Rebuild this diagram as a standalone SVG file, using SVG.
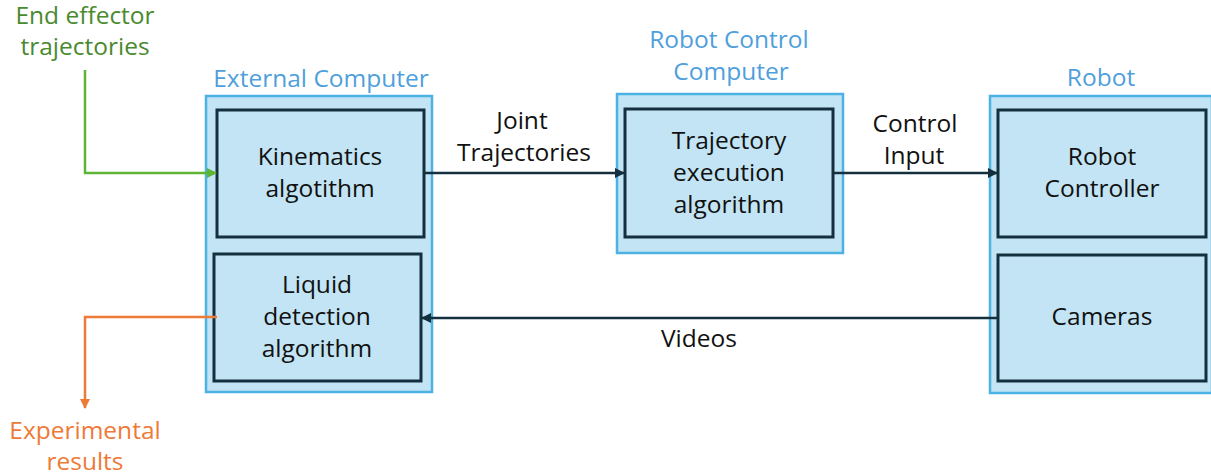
<svg xmlns="http://www.w3.org/2000/svg" width="1211" height="476" viewBox="0 0 1211 476">
  <style>
    text { font-family: "Open Sans", "Noto Sans", "Liberation Sans", sans-serif; font-size: 24.5px; text-anchor: middle; }
    .outer { fill: #c2e4f4; stroke: #4cb1e3; stroke-width: 2.5; }
    .inner { fill: #c2e4f4; stroke: #14303f; stroke-width: 3; }
    .lbl { fill: #111; }
    .grp { fill: #4f9fdc; }
    .conn { fill: none; stroke: #14303f; stroke-width: 2.5; }
    .green { fill: none; stroke: #5cb535; stroke-width: 2.5; }
    .orange { fill: none; stroke: #ee7a38; stroke-width: 2.5; }
  </style>
  <defs>
    <marker id="arrDark" markerWidth="10" markerHeight="10" refX="9" refY="5" orient="auto" markerUnits="userSpaceOnUse">
      <path d="M0,0 L10,5 L0,10 z" fill="#14303f"/>
    </marker>
    <marker id="arrGreen" markerWidth="10" markerHeight="10" refX="9" refY="5" orient="auto" markerUnits="userSpaceOnUse">
      <path d="M0,0 L10,5 L0,10 z" fill="#5cb535"/>
    </marker>
    <marker id="arrOrange" markerWidth="10" markerHeight="10" refX="9" refY="5" orient="auto" markerUnits="userSpaceOnUse">
      <path d="M0,0 L10,5 L0,10 z" fill="#ee7a38"/>
    </marker>
  </defs>

  <!-- External Computer -->
  <g id="external-computer">
    <rect class="outer" x="206" y="96" width="226" height="296"/>
    <text class="grp" x="321" y="87">External Computer</text>
  </g>
  <g id="kinematics">
    <rect class="inner" x="217" y="110" width="207" height="127"/>
    <text class="lbl" x="320" y="165">Kinematics</text>
    <text class="lbl" x="320" y="197">algotithm</text>
  </g>
  <g id="liquid-detection">
    <rect class="inner" x="214" y="254" width="207" height="127"/>
    <text class="lbl" x="317" y="293">Liquid</text>
    <text class="lbl" x="317" y="325">detection</text>
    <text class="lbl" x="317" y="357">algorithm</text>
  </g>

  <!-- Robot Control Computer -->
  <g id="robot-control-computer">
    <rect class="outer" x="617" y="94" width="226" height="159"/>
    <text class="grp" x="729" y="48">Robot Control</text>
    <text class="grp" x="731" y="80">Computer</text>
  </g>
  <g id="trajectory-execution">
    <rect class="inner" x="625" y="109" width="208" height="128"/>
    <text class="lbl" x="729" y="149">Trajectory</text>
    <text class="lbl" x="729" y="181">execution</text>
    <text class="lbl" x="729" y="213">algorithm</text>
  </g>

  <!-- Robot -->
  <g id="robot">
    <rect class="outer" x="990" y="96" width="222" height="297"/>
    <text class="grp" x="1101" y="86">Robot</text>
  </g>
  <g id="robot-controller">
    <rect class="inner" x="998" y="110" width="208" height="127"/>
    <text class="lbl" x="1102" y="165">Robot</text>
    <text class="lbl" x="1102" y="197">Controller</text>
  </g>
  <g id="cameras">
    <rect class="inner" x="998" y="255" width="208" height="126"/>
    <text class="lbl" x="1102" y="325">Cameras</text>
  </g>

  <!-- External input / output labels -->
  <g id="end-effector-trajectories">
    <text fill="#4a8a2f" x="85" y="24">End effector</text>
    <text fill="#4a8a2f" x="85" y="55">trajectories</text>
  </g>
  <g id="experimental-results">
    <text fill="#ee7a38" x="85" y="439">Experimental</text>
    <text fill="#ee7a38" x="85" y="470">results</text>
  </g>

  <!-- Connectors -->
  <g id="connectors">
    <path class="green" d="M85,70 V173 H216" marker-end="url(#arrGreen)"/>
    <path class="orange" d="M217,317 H85 V408" marker-end="url(#arrOrange)"/>
    <path class="conn" d="M424,173 H624" marker-end="url(#arrDark)"/>
    <path class="conn" d="M833,173 H997" marker-end="url(#arrDark)"/>
    <path class="conn" d="M998,318 H422" marker-end="url(#arrDark)"/>
    <text class="lbl" x="522" y="129">Joint</text>
    <text class="lbl" x="524" y="161">Trajectories</text>
    <text class="lbl" x="915" y="132">Control</text>
    <text class="lbl" x="914" y="164">Input</text>
    <text class="lbl" x="699" y="347">Videos</text>
  </g>
</svg>
